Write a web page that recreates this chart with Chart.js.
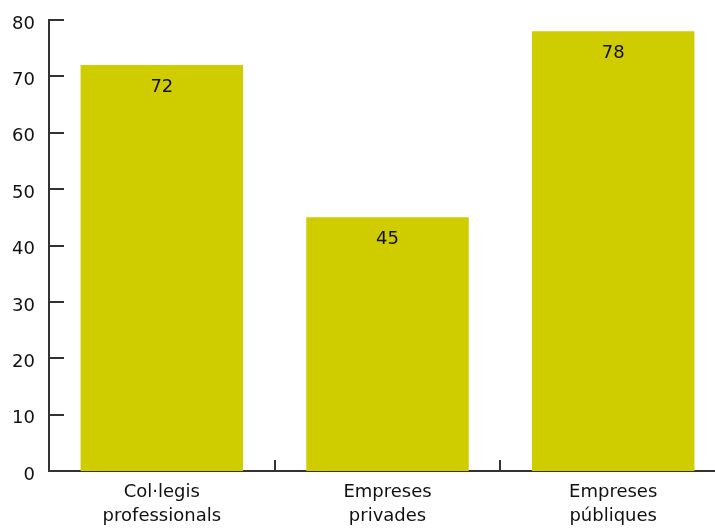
<!DOCTYPE html>
<html>
<head>
<meta charset="utf-8">
<script src="https://cdn.jsdelivr.net/npm/chart.js@4"></script>
<style>
  html, body { margin: 0; padding: 0; background: #fff; overflow: hidden; }
  #wrap { width: 726px; height: 528px; }
</style>
</head>
<body>
<div id="wrap"><canvas id="chart" width="726" height="528"></canvas></div>
<script>
// dades del gràfic
const categories = [["Col·legis", "professionals"], ["Empreses", "privades"], ["Empreses", "públiques"]];
const values = [72, 45, 78];
const yTicks = [0, 10, 20, 30, 40, 50, 60, 70, 80];

const barColor = "rgb(207, 205, 0)";
const axisColor = "#333";
const textColor = "#111";
const fontFamily = "'DejaVu Sans', Verdana, sans-serif";

// marques cap endins i etiquetes dels valors
const innerTicks = {
  id: "innerTicks",
  afterDraw(chart) {
    const ctx = chart.ctx;
    const area = chart.chartArea;
    const x = chart.scales.x;
    const y = chart.scales.y;
    ctx.save();
    ctx.strokeStyle = axisColor;
    ctx.lineWidth = 2;
    yTicks.forEach((v) => {
      if (v === 0) return;
      const py = Math.round(y.getPixelForValue(v));
      ctx.beginPath();
      ctx.moveTo(area.left, py);
      ctx.lineTo(area.left + 15, py);
      ctx.stroke();
    });
    for (let i = 0; i < categories.length - 1; i++) {
      const px = Math.round((x.getPixelForTick(i) + x.getPixelForTick(i + 1)) / 2);
      ctx.beginPath();
      ctx.moveTo(px, area.bottom);
      ctx.lineTo(px, area.bottom - 11);
      ctx.stroke();
    }
    // etiquetes dins les barres
    ctx.fillStyle = textColor;
    ctx.font = "18px " + fontFamily;
    ctx.textAlign = "center";
    ctx.textBaseline = "middle";
    chart.getDatasetMeta(0).data.forEach((bar, i) => {
      ctx.fillText(String(values[i]), bar.x, bar.y + 22);
    });
    ctx.restore();
  },
};

new Chart(document.getElementById("chart").getContext("2d"), {
  type: "bar",
  data: {
    labels: categories,
    datasets: [
      {
        data: values,
        backgroundColor: barColor,
        borderWidth: 0,
        barPercentage: 0.72,
        categoryPercentage: 1,
      },
    ],
  },
  options: {
    responsive: false,
    animation: false,
    maintainAspectRatio: false,
    layout: { padding: { top: 20, right: 0, left: 0, bottom: 0 } },
    plugins: { legend: { display: false }, tooltip: { enabled: false } },
    scales: {
      x: {
        grid: { display: false, drawTicks: false },
        border: { display: true, color: axisColor, width: 2 },
        ticks: {
          color: textColor,
          font: { family: fontFamily, size: 18, lineHeight: 1.33 },
          padding: 9,
          maxRotation: 0,
        },
        afterFit: (s) => { s.height = 57; s.paddingLeft = 0; s.paddingRight = 0; },
      },
      y: {
        min: 0,
        max: 80,
        grid: { display: false, drawTicks: false },
        border: { display: true, color: axisColor, width: 2 },
        ticks: {
          stepSize: 10,
          color: textColor,
          font: { family: fontFamily, size: 18 },
          padding: 14,
          labelOffset: 4,
        },
        afterFit: (s) => { s.width = 49; s.paddingTop = 0; s.paddingBottom = 0; },
      },
    },
  },
  plugins: [innerTicks],
});
</script>
</body>
</html>
